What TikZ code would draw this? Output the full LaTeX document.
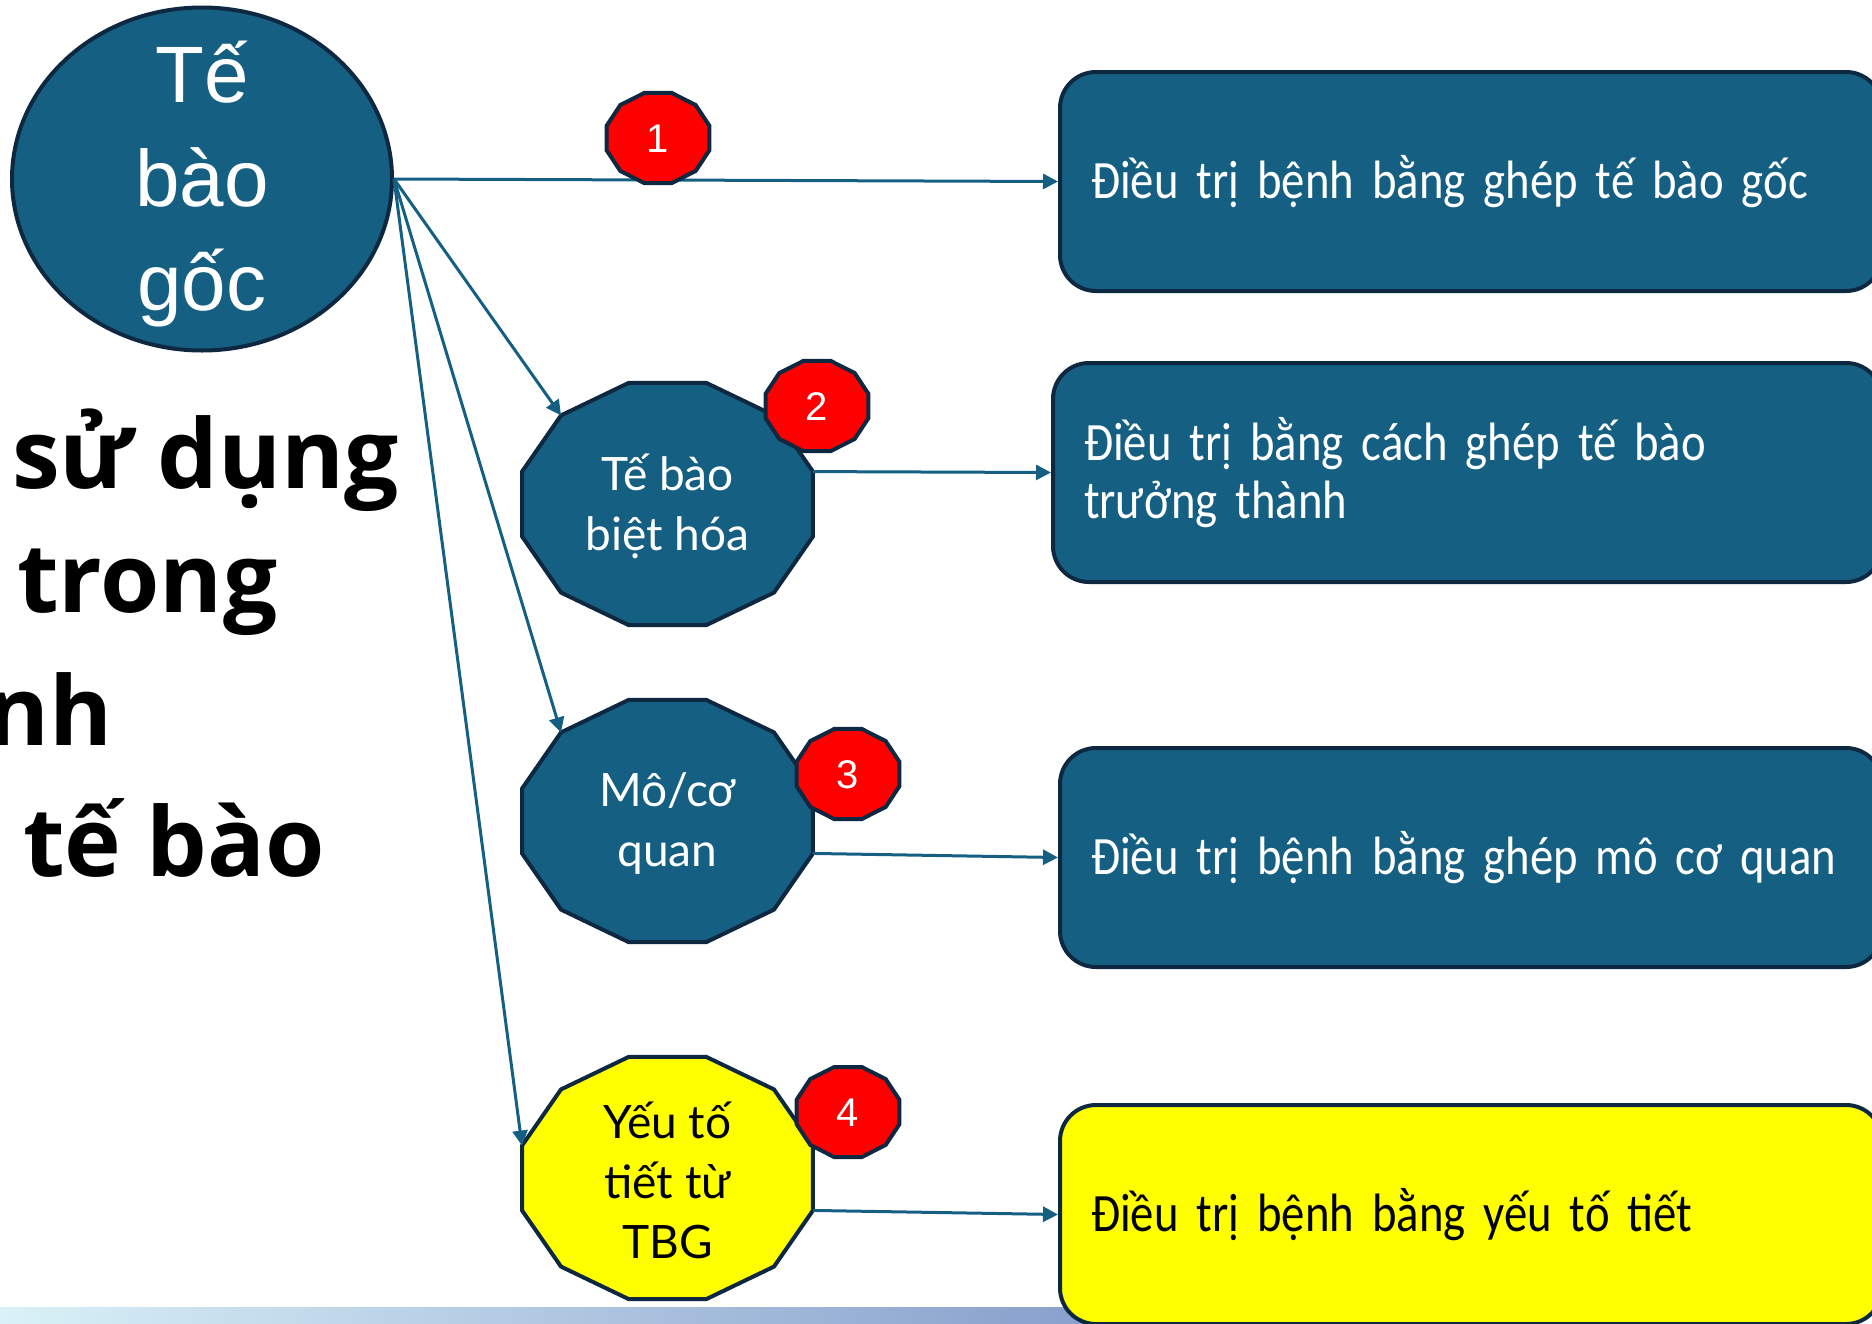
\documentclass[tikz,border=0pt]{standalone}
\usepackage{fontspec}
\setmainfont{Liberation Sans}
\newfontfamily\arialf{Liberation Sans}
\newfontfamily\polyf{Lato}
\newfontfamily\boxf[FakeStretch=0.865]{Carlito}
\newfontfamily\boldf{Open Sans}
\newcommand\boxfontsel{\boxf\fontsize{54pt}{58pt}\selectfont\spaceskip=6pt\relax\xspaceskip=6pt\relax}
\usetikzlibrary{arrows.meta,shapes.geometric}
\definecolor{acc}{HTML}{156082}
\definecolor{dk}{HTML}{0E2841}
\definecolor{barL}{HTML}{D9F1F7}
\definecolor{barR}{HTML}{879FCB}
\definecolor{yel}{HTML}{FFFF00}
\definecolor{badgered}{HTML}{FF0000}
\tikzset{
  shapeline/.style={draw=dk, line width=4pt},
  conn/.style={draw=acc, line width=3pt, -{Triangle[length=15pt,width=15pt]}},
  boxst/.style={shapeline, fill=acc, rounded corners=36pt, anchor=north west,
    minimum height=219pt, text width=760pt, inner xsep=31pt, align=left,
    font=\boxfontsel, text=white},
  polytext/.style={align=center, inner sep=0pt, font=\polyf\fontsize{46pt}{60pt}\selectfont},
  badgetext/.style={inner sep=0pt, text=white, font=\arialf\fontsize{40pt}{48pt}\selectfont},
  boldtxt/.style={inner sep=0pt, anchor=base west, font=\boldf\bfseries\fontsize{96pt}{110pt}\selectfont}
}
\newcommand\dodeca[6]{%
  \begin{scope}[shift={(#2,#3)}]
    \draw[shapeline, fill=#6] (15:#4pt and #5pt) \foreach \a in {45,75,...,345}{ -- (\a:#4pt and #5pt)} -- cycle;
    \foreach \a in {15,45,...,345} \coordinate (#1-\a) at (\a:#4pt and #5pt);
  \end{scope}}
\begin{document}
\begin{tikzpicture}[x=1pt,y=-1pt]
\useasboundingbox (0,0) rectangle (1872,1323);
\clip (0,0) rectangle (1872,1323);
% bottom decorative bar
\shade[left color=barL, right color=barR] (0,1307) rectangle (1100,1323);
% left title fragments
\node[boldtxt] (t1) at (12,488) {sử dụng};
\node[boldtxt] (t2) at (17,612) {trong};
\node[boldtxt] (t3) at (-14,745) {nh};
\node[boldtxt] (t4) at (23,876) {tế bào};
% stem cell ellipse
\node[ellipse, shapeline, fill=acc, minimum width=380pt, minimum height=343pt, inner sep=0pt] (stem) at (202,179) {};
\node[align=center, inner sep=0pt, text=white, font=\arialf\fontsize{80pt}{104pt}\selectfont] (stemtxt) at (202,184) {Tế\\bào\\gốc};
% right boxes
\node[boxst] (b1) at (1058,70) {Điều trị bệnh bằng ghép tế bào gốc};
\node[boxst, text width=767pt] (b2) at (1051,361) {Điều trị bằng cách ghép tế bào\\trưởng thành};
\node[boxst] (b3) at (1058,746) {Điều trị bệnh bằng ghép mô cơ quan};
\node[boxst, fill=yel, text=black] (b4) at (1058,1103) {Điều trị bệnh bằng yếu tố tiết};
% dodecagons
\dodeca{p2}{667.5}{504}{150.6}{125.3}{acc}
\node[polytext, text=white] (p2t) at (667.5,506) {Tế bào\\biệt hóa};
\dodeca{p3}{667.5}{821}{150.6}{125.3}{acc}
\node[polytext, text=white] (p3t) at (667.5,823) {Mô/cơ\\quan};
\dodeca{p4}{667.5}{1178}{150.6}{125.3}{yel}
\node[polytext, text=black] (p4t) at (667.5,1180) {Yếu tố\\tiết từ\\TBG};
% connectors
\draw[conn] (stem.east) -- (b1.west);
\draw[conn] (stem.east) -- (p2-135);
\draw[conn] (stem.east) -- (p3-135);
\draw[conn] (stem.east) -- (p4-165);
\draw[conn] (p2-15) -- (b2.west);
\draw[conn] (p3-345) -- (b3.west);
\draw[conn] (p4-345) -- (b4.west);
% badges
\dodeca{g1}{658}{138}{53.3}{46.6}{badgered}
\node[badgetext] (n1) at (658,139) {1};
\dodeca{g2}{817}{406}{53.3}{46.6}{badgered}
\node[badgetext] (n2) at (817,407) {2};
\dodeca{g3}{848}{774}{53.3}{46.6}{badgered}
\node[badgetext] (n3) at (848,775) {3};
\dodeca{g4}{848}{1112}{53.3}{46.6}{badgered}
\node[badgetext] (n4) at (848,1113) {4};
\end{tikzpicture}
\end{document}
